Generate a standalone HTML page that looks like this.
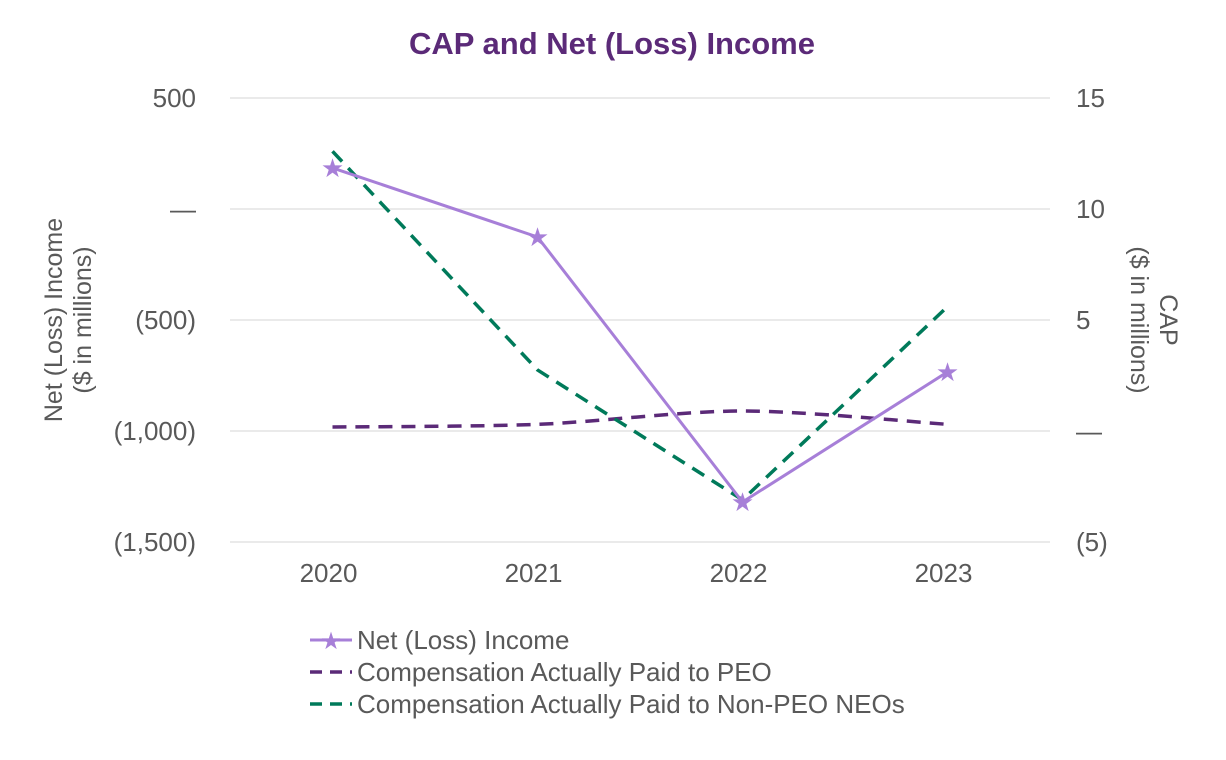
<!DOCTYPE html>
<html><head><meta charset="utf-8"><style>
body{margin:0;background:#fff;}
svg{display:block;font-family:"Liberation Sans",Arial,sans-serif;}
</style></head><body>
<svg id="chart" width="1226" height="760">
<text x="612" y="54" text-anchor="middle" font-size="31" font-weight="bold" fill="#5b2a78">CAP and Net (Loss) Income</text>
<g id="grid"></g><g id="axes"></g><g id="series"></g>
<text transform="translate(62,320) rotate(-90)" text-anchor="middle" font-size="25" fill="#595959"><tspan x="0" dy="0">Net (Loss) Income</tspan><tspan x="0" dy="29">($ in millions)</tspan></text>
<text transform="translate(1160,320) rotate(90)" text-anchor="middle" font-size="25" fill="#595959"><tspan x="0" dy="0">CAP</tspan><tspan x="0" dy="29">($ in millions)</tspan></text>
<g font-size="26" fill="#595959">
<line x1="310" y1="640" x2="352" y2="640" stroke="#a77fd8" stroke-width="3"/>
<text x="331" y="649" text-anchor="middle" font-size="24" fill="#a77fd8">★</text>
<text x="357" y="649">Net (Loss) Income</text>
<line x1="310" y1="672" x2="352" y2="672" stroke="#5b2a78" stroke-width="3.5" stroke-dasharray="12,8"/>
<text x="357" y="681">Compensation Actually Paid to PEO</text>
<line x1="310" y1="704" x2="352" y2="704" stroke="#007a5a" stroke-width="3.5" stroke-dasharray="12,8"/>
<text x="357" y="713">Compensation Actually Paid to Non-PEO NEOs</text>
</g>
</svg>
<script>
const years=["2020","2021","2022","2023"];
const netIncome=[185,-126,-1320,-734];
const capPeo=[0.18,0.3,0.9,0.3];
const capNonPeo=[12.6,2.75,-3.1,5.6];
const leftTicks=[500,0,-500,-1000,-1500];
const leftLabels=["500","—","(500)","(1,000)","(1,500)"];
const rightTicks=[15,10,5,0,-5];
const rightLabels=["15","10","5","—","(5)"];
const NS="http://www.w3.org/2000/svg";
const x0=230,x1=1050,yTop=98,yBot=542;
const xs=i=>x0+(x1-x0)/years.length*(i+0.5);
const yL=v=>yTop+(500-v)/2000*(yBot-yTop);
const yR=v=>yTop+(15-v)/20*(yBot-yTop);
function mk(t,a,p){const e=document.createElementNS(NS,t);for(const k in a)e.setAttribute(k,a[k]);p.appendChild(e);return e;}
const grid=document.getElementById('grid'),axes=document.getElementById('axes'),ser=document.getElementById('series');
leftTicks.forEach((v,i)=>{
 const l=mk('line',{x1:x0,x2:x1,y1:yL(v),y2:yL(v),stroke:'#e3e3e3','stroke-width':1.5},grid);
 
 
 const t=mk('text',{x:196,y:yL(v)+9,'text-anchor':'end','font-size':26,fill:'#595959'},axes);t.textContent=leftLabels[i];
 
 
});
rightTicks.forEach((v,i)=>{
 const t=mk('text',{x:1076,y:yR(v)+9,'font-size':26,fill:'#595959'},axes);t.textContent=rightLabels[i];
 
 
});
years.forEach((y,i)=>{
 const t=mk('text',{x:xs(i)-4,y:582,'text-anchor':'middle','font-size':26,fill:'#595959'},axes);t.textContent=y;
 
 
});
function pts(arr,f){return arr.map((v,i)=>[xs(i),f(v)]);}
function smooth(p){let d=`M${p[0][0]},${p[0][1]}`;for(let i=0;i<p.length-1;i++){const a=p[i-1]||p[i],b=p[i],c=p[i+1],e=p[i+2]||c;const t=0.15;d+=` C${b[0]+(c[0]-a[0])*t},${b[1]+(c[1]-a[1])*t} ${c[0]-(e[0]-b[0])*t},${c[1]-(e[1]-b[1])*t} ${c[0]},${c[1]}`;}return d;}
const p1=mk('path',{d:smooth(pts(capPeo,yR)),fill:'none',stroke:'#5b2a78','stroke-width':3.5,'stroke-dasharray':'14,9'},ser);


const p2=mk('polyline',{points:pts(capNonPeo,yR).join(' '),fill:'none',stroke:'#007a5a','stroke-width':3.5,'stroke-dasharray':'14,9'},ser);


const p3=mk('polyline',{points:pts(netIncome,yL).join(' '),fill:'none',stroke:'#a77fd8','stroke-width':3},ser);


netIncome.forEach((v,i)=>{
 const s=mk('text',{x:xs(i),y:yL(v)+9,'text-anchor':'middle','font-size':26,fill:'#a77fd8'},ser);s.textContent='★';
 
 
});
</script>
</body></html>
